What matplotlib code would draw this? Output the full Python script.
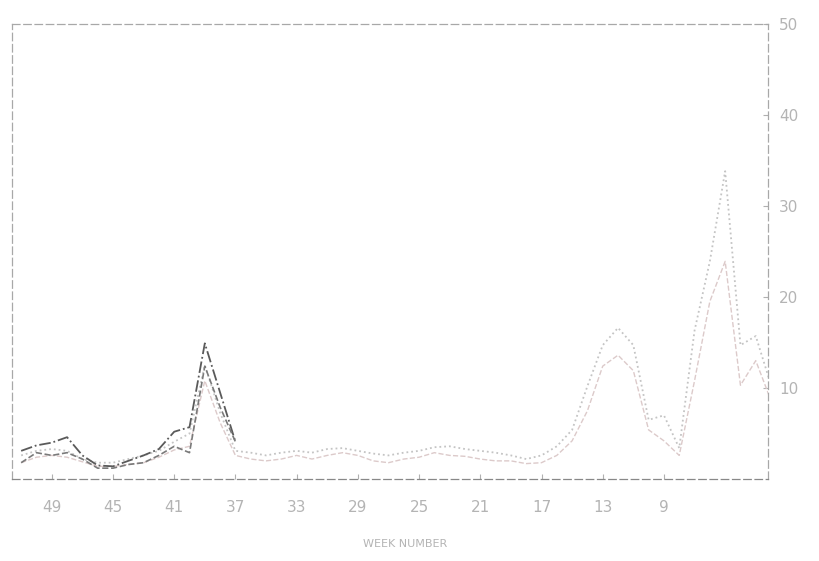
import matplotlib.pyplot as plt

# week numbers (axis runs right to left, week 1 side on the right)
weeks_early = [51, 50, 49, 48, 47, 46, 45, 44, 43, 42, 41, 40, 39, 38, 37]
weeks_full = list(range(51, 1, -1))

# dark series, only the early part
dark_upper = [3.1, 3.7, 4.0, 4.6, 2.6, 1.5, 1.4, 2.0, 2.6, 3.3, 5.2, 5.7, 14.9, 9.5, 4.1]
dark_lower = [1.8, 2.9, 2.6, 2.9, 2.2, 1.2, 1.2, 1.6, 1.8, 2.6, 3.6, 2.9, 12.4, 7.9, 4.1]

# faint series, whole range (weeks 51 .. 2)
faint_upper = [2.6, 3.1, 3.3, 3.1, 2.2, 1.8, 1.8, 2.2, 2.6, 3.1, 4.1, 5.0, 12.5, 7.3, 3.1,
               2.9, 2.6, 2.9, 3.1, 2.9, 3.3, 3.4, 3.1, 2.8, 2.6, 2.9, 3.1, 3.5, 3.6, 3.3,
               3.1, 2.9, 2.6, 2.2, 2.6, 3.6, 5.4, 10.2, 14.7, 16.6, 14.7, 6.5, 7.0, 3.4,
               16.3, 23.9, 33.8, 14.7, 15.7, 10.3]
faint_lower = [1.8, 2.4, 2.6, 2.4, 1.9, 1.4, 1.4, 1.6, 1.8, 2.4, 3.2, 3.6, 10.8, 6.2, 2.6,
               2.2, 2.0, 2.2, 2.6, 2.2, 2.6, 2.9, 2.6, 2.0, 1.8, 2.2, 2.4, 2.9, 2.6, 2.5,
               2.2, 2.0, 2.0, 1.7, 1.8, 2.6, 4.2, 7.5, 12.4, 13.6, 11.9, 5.4, 4.2, 2.6,
               10.8, 19.5, 23.9, 10.3, 13.0, 8.6]

xticks = [49, 45, 41, 37, 33, 29, 25, 21, 17, 13, 9]
yticks = [10, 20, 30, 40, 50]

fig = plt.figure(figsize=(8.2, 5.61), dpi=100)
ax = fig.add_axes([0.0146, 0.146, 0.922, 0.812])

ax.plot(weeks_full, faint_upper, color='#c4c4c4', linestyle=':', linewidth=1.3)
ax.plot(weeks_full, faint_lower, color='#dccaca', linestyle='--', linewidth=1.0)
ax.plot(weeks_early, dark_upper, color='#5a5a5a', linestyle='-.', linewidth=1.3)
ax.plot(weeks_early, dark_lower, color='#7a7a7a', linestyle='--', linewidth=1.2)

ax.set_xlim(51.6, 2.2)
ax.set_ylim(0, 50)
ax.set_xticks(xticks)
ax.set_yticks(yticks)
ax.yaxis.tick_right()
ax.tick_params(axis='both', direction='in', colors='#b0b0b0', labelcolor='#b4b4b4', labelsize=11)
ax.tick_params(axis='x', pad=15)
ax.tick_params(axis='y', pad=8)

for side in ['top', 'bottom', 'left', 'right']:
    ax.spines[side].set_color('#a8a8a8')
    ax.spines[side].set_linewidth(0.9)
    ax.spines[side].set_linestyle((0, (6, 3)))
ax.spines['bottom'].set_color('#888888')

fig.text(0.494, 0.022, 'WEEK NUMBER', color='#b4b4b4', fontsize=8, ha='center', va='bottom')

plt.savefig('out.png', dpi=100)
